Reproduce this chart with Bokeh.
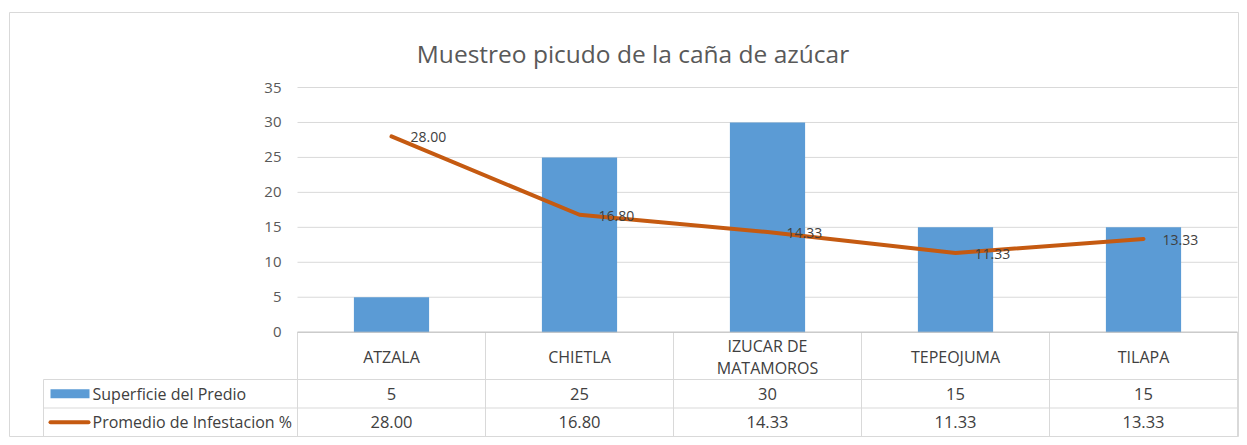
from bokeh.plotting import figure
from bokeh.models import Range1d
from bokeh.core.properties import value
from bokeh.embed import file_html
from bokeh.resources import INLINE

# ---------------- data ----------------
categories = ["ATZALA", "CHIETLA", "IZUCAR DE\nMATAMOROS", "TEPEOJUMA", "TILAPA"]
superficie = [5, 25, 30, 15, 15]
infestacion = [28.00, 16.80, 14.33, 11.33, 13.33]
y_ticks = [0, 5, 10, 15, 20, 25, 30, 35]
series_names = ["Superficie del Predio", "Promedio de Infestacion %"]
title_text = "Muestreo picudo de la caña de azúcar"

# ---------------- layout (picture pixels) ----------------
W, H = 1239, 437
FR_L, FR_T = 9, 12
PLOT_L, CAT_W = 297, 188
Y_ZERO, PX_PER_UNIT = 331.7, 244.7 / 35.0
ROW_1, ROW_2, ROW_3 = 379, 407.5, 436   # table row bottoms (px)


def dx(px):
    return (px - PLOT_L) / CAT_W


def dy(py):
    return (Y_ZERO - py) / PX_PER_UNIT


FONT = value("Open Sans")
BAR_COLOR = "#5B9BD5"
LINE_COLOR = "#C55A11"
GRID_COLOR = "#D9D9D9"
TEXT_COLOR = "#404040"

p = figure(width=W, height=H, output_backend="svg", toolbar_location=None,
           x_range=Range1d(dx(FR_L), dx(W)),
           y_range=Range1d(dy(H), dy(FR_T)),
           x_axis_type=None, y_axis_type=None,
           min_border_left=FR_L, min_border_top=FR_T,
           min_border_right=0, min_border_bottom=0)
p.outline_line_color = GRID_COLOR
p.background_fill_color = "white"
p.border_fill_color = "white"

n = len(categories)
centers = [i + 0.5 for i in range(n)]

# title
p.text(x=[dx(632.5)], y=[dy(53)], text=[title_text], text_font=FONT,
       text_font_size="24.5px", text_color="#595959", text_align="center",
       text_baseline="alphabetic")

# gridlines
p.segment(x0=[0] * len(y_ticks), x1=[n] * len(y_ticks), y0=y_ticks, y1=y_ticks,
          line_color=GRID_COLOR, line_width=1)

# y tick labels
p.text(x=[dx(281)] * len(y_ticks), y=y_ticks, text=[str(t) for t in y_ticks],
       text_font=FONT, text_font_size="15px", text_color="#595959",
       text_align="right", text_baseline="middle")

# bars
p.vbar(x=centers, top=superficie, bottom=0, width=0.4, fill_color=BAR_COLOR,
       line_color=None)

# line
p.line(x=centers, y=infestacion, line_color=LINE_COLOR, line_width=4,
       line_join="round", line_cap="round")

# line data labels
p.text(x=centers, y=infestacion, text=[f"{v:.2f}" for v in infestacion],
       x_offset=19, y_offset=1, text_font=FONT, text_font_size="14px",
       text_color=TEXT_COLOR, text_align="left", text_baseline="middle")

# ---------------- data table ----------------
row_bounds = [dy(ROW_1), dy(ROW_2), dy(ROW_3)]
p.segment(x0=[dx(43)] * 3, x1=[n] * 3, y0=row_bounds, y1=row_bounds,
          line_color=GRID_COLOR, line_width=1)
vx = list(range(n + 1))
p.segment(x0=vx, x1=vx, y0=[0] * len(vx), y1=[dy(ROW_3)] * len(vx),
          line_color=GRID_COLOR, line_width=1)
p.segment(x0=[dx(43)], x1=[dx(43)], y0=[dy(ROW_1)], y1=[dy(ROW_3)],
          line_color=GRID_COLOR, line_width=1)
# axis line
p.segment(x0=[0], x1=[n], y0=[0], y1=[0], line_color="#BFBFBF", line_width=1)

p.text(x=centers, y=[dy((Y_ZERO + ROW_1) / 2 + 1)] * n, text=categories, text_font=FONT,
       text_font_size="16px", text_color=TEXT_COLOR, text_align="center",
       text_baseline="middle", text_line_height=1.0)
p.text(x=centers, y=[dy((ROW_1 + ROW_2) / 2)] * n, text=[str(v) for v in superficie],
       text_font=FONT, text_font_size="16.5px", text_color=TEXT_COLOR,
       text_align="center", text_baseline="middle")
p.text(x=centers, y=[dy((ROW_2 + ROW_3) / 2)] * n,
       text=[f"{v:.2f}" for v in infestacion],
       text_font=FONT, text_font_size="16.5px", text_color=TEXT_COLOR,
       text_align="center", text_baseline="middle")

# legend keys + names
mid2 = (ROW_1 + ROW_2) / 2
mid3 = (ROW_2 + ROW_3) / 2
p.quad(left=[dx(50)], right=[dx(89)], top=[dy(mid2 - 4.5)], bottom=[dy(mid2 + 4.5)],
       fill_color=BAR_COLOR, line_color=None)
p.segment(x0=[dx(50)], x1=[dx(88)], y0=[dy(mid3)], y1=[dy(mid3)],
          line_color=LINE_COLOR, line_width=4, line_cap="round")
p.text(x=[dx(92)] * 2, y=[dy(mid2), dy(mid3)], text=series_names,
       text_font=FONT, text_font_size="16px", text_color=TEXT_COLOR,
       text_align="left", text_baseline="middle")

open("out.html", "w").write(file_html(p, INLINE))
